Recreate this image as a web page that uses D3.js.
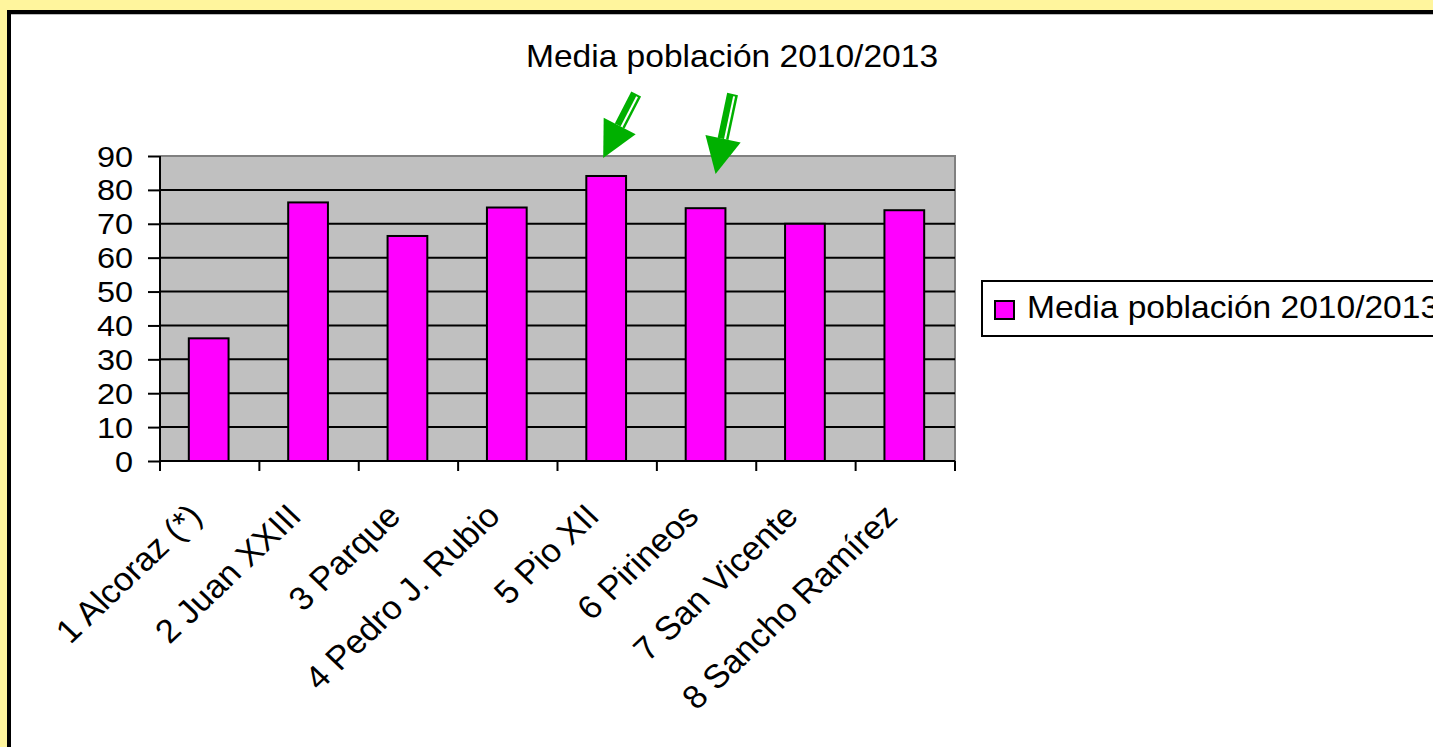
<!DOCTYPE html>
<html>
<head>
<meta charset="utf-8">
<script src="https://cdn.jsdelivr.net/npm/d3@7/dist/d3.min.js"></script>
<style>
  html, body { margin: 0; padding: 0; background: #fff59d; }
  svg { display: block; }
  text { font-family: "Liberation Sans", Arial, sans-serif; fill: #000; }
</style>
</head>
<body>
<svg id="chart" width="1433" height="747"></svg>
<script>
// ---- data ----
const categories = ["1 Alcoraz (*)", "2 Juan XXIII", "3 Parque", "4 Pedro J. Rubio",
                    "5 Pio XII", "6 Pirineos", "7 San Vicente", "8 Sancho Ramírez"];
const values = [36.2, 76.3, 66.4, 74.8, 84.1, 74.6, 70.0, 74.0];
const yTicks = [0, 10, 20, 30, 40, 50, 60, 70, 80, 90];
const seriesName = "Media población 2010/2013";
const chartTitle = "Media población 2010/2013";
const highlighted = ["5 Pio XII", "6 Pirineos"];

// ---- layout ----
const SX = 1.1; // horizontal text stretch seen in the reference
const svg = d3.select("#chart");
const plot = { left: 160, right: 955, top: 156, bottom: 461 };

// background frame
svg.append("rect").attr("x", 0).attr("y", 0).attr("width", 1433).attr("height", 747).attr("fill", "#fff59d");
svg.append("rect").attr("x", 9).attr("y", 12).attr("width", 1500).attr("height", 800)
  .attr("fill", "#fff").attr("stroke", "#000").attr("stroke-width", 4);
svg.append("line").attr("x1", 11).attr("x2", 1433).attr("y1", 14.5).attr("y2", 14.5)
  .attr("stroke", "#bbb").attr("stroke-width", 1);

const x = d3.scaleBand().domain(categories).range([plot.left, plot.right]).paddingInner(0).paddingOuter(0);
const y = d3.scaleLinear().domain([0, 90]).range([plot.bottom, plot.top]);

// plot background
svg.append("rect").attr("x", plot.left).attr("y", plot.top)
  .attr("width", plot.right - plot.left).attr("height", plot.bottom - plot.top)
  .attr("fill", "#c0c0c0");
// top/right border gray
svg.append("path")
  .attr("d", `M${plot.left},${plot.top}H${plot.right}V${plot.bottom}`)
  .attr("fill", "none").attr("stroke", "#808080").attr("stroke-width", 2);

// gridlines
svg.append("g").selectAll("line").data(yTicks.filter(d => d > 0 && d < 90)).join("line")
  .attr("x1", plot.left).attr("x2", plot.right)
  .attr("y1", d => y(d)).attr("y2", d => y(d))
  .attr("stroke", "#000").attr("stroke-width", 2);

// bars
const barW = x.bandwidth() * 0.4;
svg.append("g").selectAll("rect").data(categories).join("rect")
  .attr("x", d => x(d) + (x.bandwidth() - barW) / 2 - 1)
  .attr("y", (d, i) => y(values[i]))
  .attr("width", barW)
  .attr("height", (d, i) => y(0) - y(values[i]))
  .attr("fill", "#ff00ff").attr("stroke", "#000").attr("stroke-width", 2);

// y axis
const yAxis = svg.append("g").attr("transform", `translate(${plot.left},0)`)
  .call(d3.axisLeft(y).tickValues(yTicks).tickSize(12).tickPadding(0));
yAxis.select(".domain").attr("stroke", "#000").attr("stroke-width", 2)
  .attr("d", `M0,${plot.top}V${plot.bottom + 10}`);
yAxis.selectAll(".tick line").attr("stroke", "#000").attr("stroke-width", 2);
yAxis.selectAll(".tick text")
  .attr("x", null).attr("dy", null)
  .attr("font-size", 29).attr("text-anchor", "end")
  .attr("transform", `translate(-27,10) scale(1.12,1)`)
  .style("font-family", "'Liberation Sans', Arial, sans-serif");

// x axis
const xBoundaries = categories.map(c => x(c)).concat([plot.right]);
svg.append("line").attr("x1", plot.left).attr("x2", plot.right)
  .attr("y1", plot.bottom).attr("y2", plot.bottom).attr("stroke", "#000").attr("stroke-width", 2);
svg.append("g").selectAll("line").data(xBoundaries).join("line")
  .attr("x1", d => d).attr("x2", d => d)
  .attr("y1", plot.bottom).attr("y2", plot.bottom + 10)
  .attr("stroke", "#000").attr("stroke-width", 2);
svg.append("g").selectAll("text").data(categories).join("text")
  .attr("transform", d => `translate(${x(d) + x.bandwidth() / 2 - 6},${plot.bottom + 57}) scale(1.05,1) rotate(-45)`)
  .attr("text-anchor", "end").attr("font-size", 33)
  .text(d => d);

// title
svg.append("text").attr("transform", `translate(732,67) scale(${SX},1)`)
  .attr("text-anchor", "middle").attr("font-size", 30.5).text(chartTitle);

// legend
const lg = svg.append("g");
lg.append("rect").attr("x", 982).attr("y", 281).attr("width", 600).attr("height", 55)
  .attr("fill", "#fff").attr("stroke", "#000").attr("stroke-width", 2);
lg.append("rect").attr("x", 995).attr("y", 301).attr("width", 19).attr("height", 18)
  .attr("fill", "#ff00ff").attr("stroke", "#000").attr("stroke-width", 2);
lg.append("text").attr("transform", `translate(1027,318) scale(${SX},1)`)
  .attr("font-size", 30.5).text(seriesName);

// arrows pointing at highlighted categories
const arrows = [
  { cat: highlighted[0], dxTip: -4, tipY: 158, dxTail: 29, tailY: 94 },
  { cat: highlighted[1], dxTip: 9, tipY: 174, dxTail: 26, tailY: 94 }
];
const green = "#00b000";
arrows.forEach(a => {
  const cx = x(a.cat) + x.bandwidth() / 2;
  const tip = [cx + a.dxTip, a.tipY];
  const tail = [cx + a.dxTail, a.tailY];
  const dx = tip[0] - tail[0], dy = tip[1] - tail[1];
  const len = Math.hypot(dx, dy);
  const ux = dx / len, uy = dy / len;
  const px = -uy, py = ux;
  const headL = 36, headW = 18, shaftW = 5.5;
  const base = [tip[0] - ux * headL, tip[1] - uy * headL];
  const g = svg.append("g");
  // double-line shaft
  g.append("polygon").attr("points", [
    [tail[0] + px * shaftW, tail[1] + py * shaftW],
    [base[0] + px * shaftW, base[1] + py * shaftW],
    [base[0] - px * shaftW, base[1] - py * shaftW],
    [tail[0] - px * shaftW, tail[1] - py * shaftW]
  ].map(p => p.join(",")).join(" ")).attr("fill", green);
  g.append("line")
    .attr("x1", tail[0] - px * 2 + ux * 2).attr("y1", tail[1] - py * 2 + uy * 2)
    .attr("x2", base[0] - px * 2).attr("y2", base[1] - py * 2)
    .attr("stroke", "#fff").attr("stroke-width", 2);
  g.append("polygon").attr("points", [
    tip,
    [base[0] + px * headW, base[1] + py * headW],
    [base[0] - px * headW, base[1] - py * headW]
  ].map(p => p.join(",")).join(" ")).attr("fill", green);
});
</script>
</body>
</html>
